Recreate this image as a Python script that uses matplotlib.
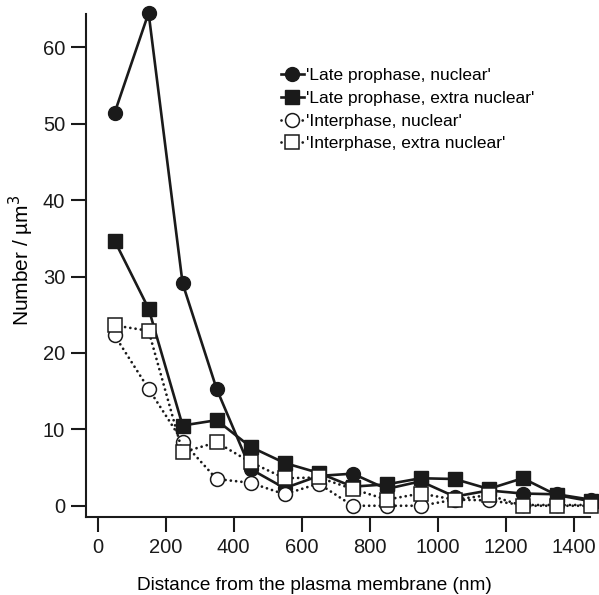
import numpy as np
import matplotlib
matplotlib.use("Agg")
import matplotlib.pyplot as plt

plt.rcParams['font.family'] = ['Liberation Sans', 'DejaVu Sans']

# -------------------------------
# Data
# -------------------------------
distance = [50, 150, 250, 350, 450, 550, 650, 750, 850, 950, 1050, 1150, 1250, 1350, 1450]

late_nuclear = [51.4, 64.5, 29.1, 15.3, 4.8, 2.3, 3.9, 4.2, 2.2, 3.2, 1.2, 2.0, 1.6, 1.5, 0.8]
late_extra = [34.7, 25.8, 10.5, 11.2, 7.7, 5.6, 4.3, 2.5, 2.8, 3.6, 3.5, 2.2, 3.6, 1.4, 0.6]
inter_nuclear = [22.3, 15.3, 8.4, 3.5, 3.0, 1.5, 2.9, 0.0, 0.0, 0.0, 0.8, 0.7, 0.1, 0.1, 0.1]
inter_extra = [23.6, 22.9, 7.0, 8.3, 5.7, 3.6, 3.7, 2.2, 0.8, 1.6, 0.8, 1.4, 0.0, 0.0, 0.0]

labels = ["'Late prophase, nuclear'", "'Late prophase, extra nuclear'",
          "'Interphase, nuclear'", "'Interphase, extra nuclear'"]

# -------------------------------
# Plot
# -------------------------------
fig = plt.figure(figsize=(5.99, 5.95), dpi=100)
ax = fig.add_axes([0.1436, 0.131, 0.8414, 0.8455])

ms = 10
dots = (0, (0.01, 1.9))
ax.plot(distance, late_nuclear, color='#1a1a1a', lw=1.9, marker='o', ms=ms,
        mfc='#1a1a1a', mec='#1a1a1a', label=labels[0], clip_on=False, zorder=3)
ax.plot(distance, late_extra, color='#1a1a1a', lw=1.9, marker='s', ms=ms,
        mfc='#1a1a1a', mec='#1a1a1a', label=labels[1], clip_on=False, zorder=4)
ax.plot(distance, inter_nuclear, color='#1a1a1a', lw=2.0, ls=dots,
        dash_capstyle='round', marker='o', ms=ms, mfc='white', mec='#1a1a1a',
        mew=1.1, label=labels[2], clip_on=False, zorder=5)
ax.plot(distance, inter_extra, color='#1a1a1a', lw=2.0, ls=dots,
        dash_capstyle='round', marker='s', ms=ms, mfc='white', mec='#1a1a1a',
        mew=1.1, label=labels[3], clip_on=False, zorder=6)

ax.set_xlim(-34, 1448)
ax.set_ylim(-1.48, 64.36)

ax.set_xticks(range(0, 1401, 200))
ax.set_yticks(range(0, 61, 10))

for side in ['top', 'right']:
    ax.spines[side].set_visible(False)
for side in ['left', 'bottom']:
    ax.spines[side].set_linewidth(1.5)
    ax.spines[side].set_color('#1a1a1a')

ax.tick_params(direction='out', length=11, width=1.5, colors='#1a1a1a',
               labelsize=14.5, pad=4)

ax.set_xlabel("Distance from the plasma membrane (nm)", fontsize=13.7)
ax.xaxis.set_label_coords(0.454, -0.119)
ax.set_ylabel("Number / \u00b5m$^3$", fontsize=15)
ax.yaxis.set_label_coords(-0.099, 0.511)

leg = ax.legend(loc='upper left', bbox_to_anchor=(0.387, 0.892), frameon=False,
                fontsize=12.5, handlelength=1.3, handletextpad=0.15,
                labelspacing=0.43, borderaxespad=0, borderpad=0)

plt.savefig("out.png", dpi=100)
